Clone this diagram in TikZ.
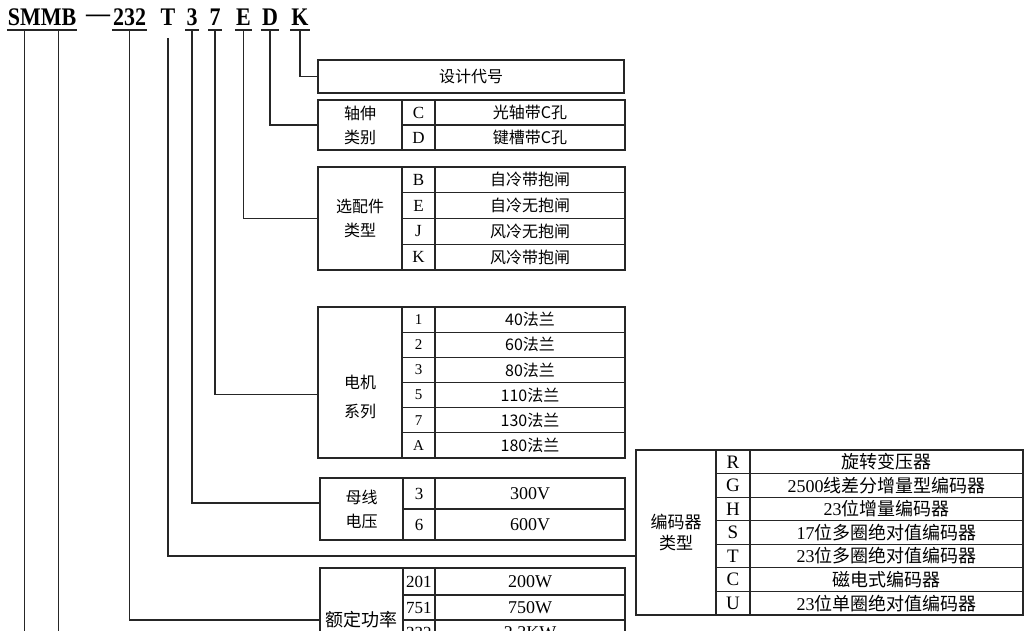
\documentclass[tikz,border=0pt]{standalone}
\usepackage{fontspec}
\setmainfont{Liberation Serif}
\newfontfamily\cjk{Noto Sans CJK SC}
\usetikzlibrary{positioning}
\newcommand{\tall}[1]{\scalebox{1}[1.15]{#1}}

\begin{document}
\begin{tikzpicture}[x=1pt,y=-1pt,
  cell/.style={draw=black!85,line width=1.2pt,anchor=north west,inner sep=0pt,outer sep=0pt,align=center,font=\cjk\fontsize{16}{24}\selectfont},
  code/.style={cell,font=\fontsize{17}{17}\selectfont},
  rmval/.style={cell,font=\fontsize{18}{18}\selectfont},
  lab/.style={cell,minimum width=84},
  cd/.style={code,minimum width=33},
  val/.style={cell,minimum width=190},
  hdr/.style={anchor=south,inner xsep=1pt,inner ysep=4pt,font=\bfseries\fontsize{22}{22}\selectfont},
  wire/.style={draw=black!85,line width=1.2pt}]

\useasboundingbox (0,0) rectangle (1024,630);
\clip (0,0) rectangle (1024,630);

% model code
\node[hdr]   (SM)    at (24.5,30)  {\tall{SM}};
\node[hdr]   (MB)    at (58.5,30)  {\tall{MB}};
\node[font=\bfseries\fontsize{24}{24}\selectfont,inner sep=0pt] (dash) at (98,18) {—};
\node[hdr]   (n232)  at (129.5,30) {\tall{232}};
\node[hdr]   (T)     at (168,30)   {\tall{T}};
\node[hdr]   (n3)    at (192,30)   {\tall{3}};
\node[hdr]   (n7)    at (215,30)   {\tall{7}};
\node[hdr]   (E)     at (243.5,30) {\tall{E}};
\node[hdr]   (D)     at (270,30)   {\tall{D}};
\node[hdr]   (K)     at (300,30)   {\tall{K}};
\coordinate (bottom) at (0,640);

% design code
\node[cell,minimum width=306,minimum height=33] (design) at (318,60) {设计代号};

% shaft
\begin{scope}[every node/.append style={minimum height=25}]
\node[lab,minimum height=50] (shlab) at (318,100) {轴伸\\类别};
\node[cd,right=0pt of shlab.north east,anchor=north west] (shC) {C};
\node[val,right=0pt of shC]  (shCv) {光轴带C孔};
\node[cd,below=0pt of shC]   (shD)  {D};
\node[val,right=0pt of shD]  (shDv) {键槽带C孔};
\end{scope}

% options
\begin{scope}[every node/.append style={minimum height=25.75}]
\node[lab,minimum height=103] (oplab) at (318,167) {选配件\\类型};
\node[cd,right=0pt of oplab.north east,anchor=north west] (opB) {B};
\node[val,right=0pt of opB]  (opBv) {自冷带抱闸};
\node[cd,below=0pt of opB]   (opE)  {E};
\node[val,right=0pt of opE]  (opEv) {自冷无抱闸};
\node[cd,below=0pt of opE]   (opJ)  {J};
\node[val,right=0pt of opJ]  (opJv) {风冷无抱闸};
\node[cd,below=0pt of opJ]   (opK)  {K};
\node[val,right=0pt of opK]  (opKv) {风冷带抱闸};
\end{scope}

% motor series
\begin{scope}[every node/.append style={minimum height=25.17},
  scd/.style={cd,font=\fontsize{15}{15}\selectfont}]
\node[lab,minimum height=151] (mlab) at (318,307) {};
\node[font=\cjk\fontsize{16}{29}\selectfont,align=center,inner sep=0pt] (mtxt) at ([yshift=-14pt]mlab.center) {电机\\系列};
\node[scd,right=0pt of mlab.north east,anchor=north west] (m1) {1};
\node[val,right=0pt of m1]  (m1v) {40法兰};
\node[scd,below=0pt of m1]  (m2)  {2};
\node[val,right=0pt of m2]  (m2v) {60法兰};
\node[scd,below=0pt of m2]  (m3)  {3};
\node[val,right=0pt of m3]  (m3v) {80法兰};
\node[scd,below=0pt of m3]  (m5)  {5};
\node[val,right=0pt of m5]  (m5v) {110法兰};
\node[scd,below=0pt of m5]  (m7)  {7};
\node[val,right=0pt of m7]  (m7v) {130法兰};
\node[scd,below=0pt of m7]  (mA)  {A};
\node[val,right=0pt of mA]  (mAv) {180法兰};
\end{scope}

% bus voltage
\begin{scope}[every node/.append style={minimum height=31}]
\node[lab,minimum width=83,minimum height=62] (vlab) at (320,478) {母线\\电压};
\node[cd,minimum width=32,right=0pt of vlab.north east,anchor=north west] (v3) {3};
\node[rmval,minimum width=190,right=0pt of v3] (v3v) {300V};
\node[cd,minimum width=32,below=0pt of v3] (v6) {6};
\node[rmval,minimum width=190,right=0pt of v6] (v6v) {600V};
\end{scope}

% encoder
\begin{scope}[every node/.append style={minimum height=23.57},
  ecd/.style={code,minimum width=34,font=\fontsize{19}{19}\selectfont},
  eval/.style={cell,minimum width=273,font=\cjk\fontsize{18}{18}\selectfont}]
\node[lab,minimum width=80,minimum height=165,font=\cjk\fontsize{17}{21}\selectfont] (enlab) at (636,450) {编码器\\类型};
\node[ecd,right=0pt of enlab.north east,anchor=north west] (eR) {R};
\node[eval,right=0pt of eR] (eRv) {旋转变压器};
\node[ecd,below=0pt of eR]  (eG)  {G};
\node[eval,right=0pt of eG] (eGv) {{\rmfamily 2500}线差分增量型编码器};
\node[ecd,below=0pt of eG]  (eH)  {H};
\node[eval,right=0pt of eH] (eHv) {{\rmfamily 23}位增量编码器};
\node[ecd,below=0pt of eH]  (eS)  {S};
\node[eval,right=0pt of eS] (eSv) {{\rmfamily 17}位多圈绝对值编码器};
\node[ecd,below=0pt of eS]  (eT)  {T};
\node[eval,right=0pt of eT] (eTv) {{\rmfamily 23}位多圈绝对值编码器};
\node[ecd,below=0pt of eT]  (eC)  {C};
\node[eval,right=0pt of eC] (eCv) {磁电式编码器};
\node[ecd,below=0pt of eC]  (eU)  {U};
\node[eval,right=0pt of eU] (eUv) {{\rmfamily 23}位单圈绝对值编码器};
\end{scope}

% rated power
\begin{scope}[every node/.append style={minimum height=25},
  pcd/.style={code,text width=26,align=left,inner xsep=3pt}]
\node[lab,minimum width=83,minimum height=104,font=\cjk\fontsize{18}{18}\selectfont] (pwlab) at (320,568) {额定功率};
\node[pcd,minimum height=27,right=0pt of pwlab.north east,anchor=north west] (p201) {201};
\node[rmval,minimum width=190,minimum height=27,right=0pt of p201] (p201v) {200W};
\node[pcd,below=0pt of p201] (p751) {751};
\node[rmval,minimum width=190,right=0pt of p751] (p751v) {750W};
\node[pcd,below=0pt of p751] (p232) {232};
\node[rmval,minimum width=190,right=0pt of p232] (p232v) {2.3KW};
\end{scope}

% underlines
\draw[wire] (SM.south west) -- (SM.south east)
  (MB.south west) -- (MB.south east)
  (n232.south west) -- (n232.south east)
  (n3.south west) -- (n3.south east)
  (n7.south west) -- (n7.south east)
  (E.south west) -- (E.south east)
  (D.south west) -- (D.south east)
  (K.south west) -- (K.south east);

% connectors
\draw[wire] (K.south) |- (design.west);
\draw[wire] (D.south) |- (shlab.west);
\draw[wire] (E.south) |- (oplab.west);
\draw[wire] (n7.south) |- ([yshift=-12pt]mlab.west);
\draw[wire] (n3.south) |- ([yshift=6pt]vlab.west);
\draw[wire] ([yshift=-8pt]T.south) |- ([yshift=-23.5pt]enlab.west);
\draw[wire] (n232.south) |- (pwlab.west);
\draw[wire] (SM.south) -- (SM.south |- bottom);
\draw[wire] (MB.south) -- (MB.south |- bottom);
\end{tikzpicture}
\end{document}
